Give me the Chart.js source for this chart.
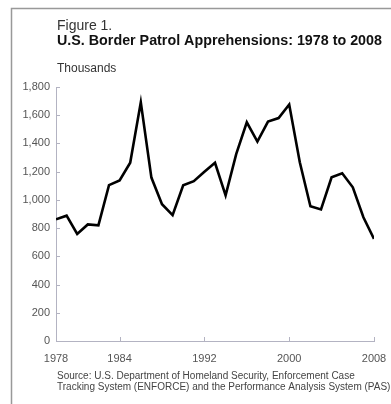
<!DOCTYPE html>
<html>
<head>
<meta charset="utf-8">
<script src="https://cdn.jsdelivr.net/npm/chart.js@4"></script>
<style>
  html, body { margin: 0; padding: 0; background: #fff; }
  #wrap { width: 391px; height: 404px; }
</style>
</head>
<body>
<div id="wrap"><canvas id="borderChart" width="391" height="404"></canvas></div>
<script>
// Apprehensions, thousands
const years = [1978, 1979, 1980, 1981, 1982, 1983, 1984, 1985, 1986, 1987, 1988,
  1989, 1990, 1991, 1992, 1993, 1994, 1995, 1996, 1997, 1998, 1999, 2000,
  2001, 2002, 2003, 2004, 2005, 2006, 2007, 2008];
const apprehensions = [862, 888, 759, 826, 820, 1105, 1138, 1263, 1692, 1158, 969,
  892, 1104, 1133, 1199, 1263, 1032, 1324, 1550, 1413, 1555, 1580, 1676,
  1266, 955, 932, 1160, 1189, 1089, 877, 724];
const xTickYears = [1978, 1984, 1992, 2000, 2008];

const AXIS_COLOR = "#b3b3c2";
const FONT = "'Liberation Sans', Arial, sans-serif";

(() => {
  const points = years.map((y, i) => ({ x: y, y: apprehensions[i] }));

  const config = {
    type: "line",
    data: {
      datasets: [
        {
          data: points,
          borderColor: "#000",
          borderWidth: 2.6,
          pointRadius: 0,
          tension: 0,
          fill: false,
        },
      ],
    },
    options: {
      responsive: false,
      animation: false,
      layout: { padding: { left: 0, right: 17, top: 87, bottom: 38 } },
      plugins: { legend: { display: false }, tooltip: { enabled: false } },
      scales: {
        x: {
          type: "linear",
          min: 1978,
          max: 2008,
          afterBuildTicks: (scale) => {
            scale.ticks = xTickYears.map((v) => ({ value: v }));
          },
          afterFit: (scale) => {
            scale.height = 25;
            scale.paddingLeft = 0;
            scale.paddingRight = 0;
          },
          grid: { display: false, drawTicks: false },
          border: { color: AXIS_COLOR, width: 1 },
          ticks: {
            padding: 11,
            color: "#555",
            font: { family: FONT, size: 11 },
            callback: (v) => String(v),
            maxRotation: 0,
          },
        },
        y: {
          min: 0,
          max: 1800,
          afterFit: (scale) => { scale.width = 56; },
          grid: { display: false, drawTicks: false },
          border: { color: AXIS_COLOR, width: 1 },
          ticks: {
            stepSize: 200,
            padding: 6,
            color: "#555",
            font: { family: FONT, size: 11 },
            callback: (v) => v.toLocaleString("en-US"),
          },
        },
      },
    },
    plugins: [
      {
        id: "frameAndText",
        beforeDraw: (chart) => {
          const ctx = chart.ctx;
          ctx.save();
          ctx.fillStyle = "#fff";
          ctx.fillRect(0, 0, chart.width, chart.height);
          // grey frame, open on right and bottom
          ctx.strokeStyle = "#999";
          ctx.lineWidth = 1.5;
          ctx.beginPath();
          ctx.moveTo(11.5, chart.height);
          ctx.lineTo(11.5, 8.5);
          ctx.lineTo(chart.width, 8.5);
          ctx.stroke();

          ctx.textAlign = "left";
          ctx.textBaseline = "alphabetic";
          ctx.fillStyle = "#333";
          ctx.font = "14px " + FONT;
          ctx.fillText("Figure 1.", 57, 30);
          ctx.fillStyle = "#111";
          ctx.font = "bold 14.3px " + FONT;
          ctx.fillText("U.S. Border Patrol Apprehensions: 1978 to 2008", 57, 45);
          ctx.fillStyle = "#333";
          ctx.font = "12px " + FONT;
          ctx.fillText("Thousands", 57, 72);
          ctx.fillStyle = "#444";
          ctx.font = "10px " + FONT;
          ctx.fillText("Source: U.S. Department of Homeland Security, Enforcement Case", 57, 379);
          ctx.fillText("Tracking System (ENFORCE) and the Performance Analysis System (PAS)", 57, 390);
          ctx.restore();
        },
        afterDraw: (chart) => {
          // short tick marks pointing into the plot
          const ctx = chart.ctx;
          const { x, y } = chart.scales;
          const area = chart.chartArea;
          ctx.save();
          ctx.strokeStyle = AXIS_COLOR;
          ctx.lineWidth = 1;
          ctx.beginPath();
          y.ticks.forEach((t) => {
            const py = Math.round(y.getPixelForValue(t.value)) + 0.5;
            ctx.moveTo(area.left, py);
            ctx.lineTo(area.left + 4, py);
          });
          x.ticks.forEach((t) => {
            const px = Math.round(x.getPixelForValue(t.value)) + 0.5;
            ctx.moveTo(px, area.bottom);
            ctx.lineTo(px, area.bottom - 4);
          });
          ctx.stroke();
          ctx.restore();
        },
      },
    ],
  };

  new Chart(document.getElementById("borderChart"), config);
})();
</script>
</body>
</html>
